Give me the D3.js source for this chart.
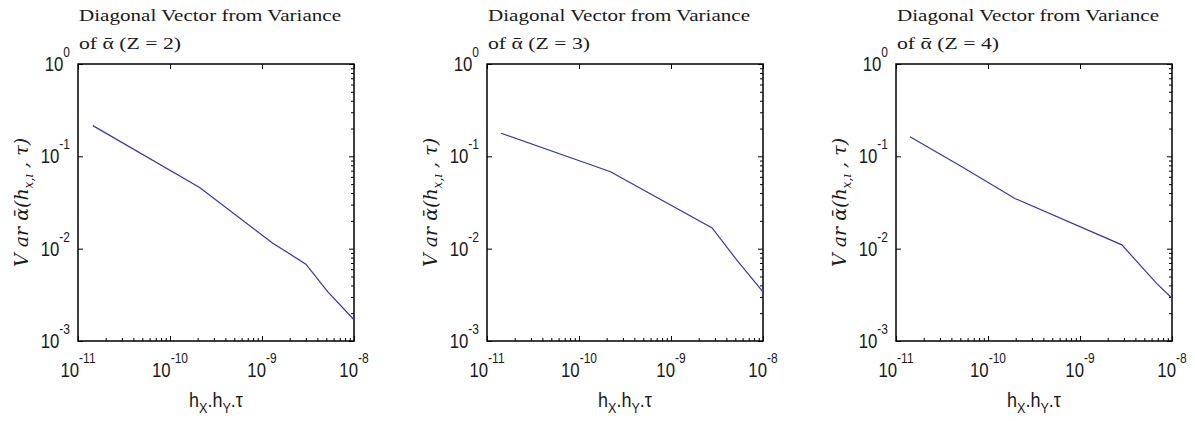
<!DOCTYPE html>
<html>
<head>
<meta charset="utf-8">
<script src="https://cdn.jsdelivr.net/npm/d3@7/dist/d3.min.js"></script>
<style>
  body { margin: 0; background: #fff; }
  svg { display: block; }
</style>
</head>
<body>
<div id="chart"></div>
<script>
var width = 1195;
var height = 421;

// data
var zValues = [2, 3, 4];
var xTickExps = [-11, -10, -9, -8];
var yTickExps = [0, -1, -2, -3];

var hTau_z2 = [1.45e-11, 2.1e-10, 1.3e-9, 3.0e-9, 5.2e-9, 1e-8];
var var_z2 = [0.215, 0.046, 0.0115, 0.0068, 0.0034, 0.0017];

var hTau_z3 = [1.42e-11, 2.2e-10, 2.8e-9, 5.2e-9, 1e-8];
var var_z3 = [0.178, 0.068, 0.0168, 0.0075, 0.0034];

var hTau_z4 = [1.42e-11, 5.2e-11, 1.96e-10, 2.85e-9, 6.8e-9, 1e-8];
var var_z4 = [0.163, 0.077, 0.035, 0.011, 0.0042, 0.0029];

var series = [
  d3.zip(hTau_z2, var_z2),
  d3.zip(hTau_z3, var_z3),
  d3.zip(hTau_z4, var_z4)
];

var panelLeft = [78, 487, 896];
var plotTop = 64;
var plotW = 276;
var plotH = 277;
var lineColor = "#3636a8";
var tickFont = "'Liberation Sans', Arial, sans-serif";
var narrow = 0.8; // squeeze the sans labels a bit, like the original bitmap font

var svg = d3.select("#chart")
  .append("svg")
  .attr("width", width)
  .attr("height", height);

var x = d3.scaleLog().domain([1e-11, 1e-8]).range([0, plotW]);
var y = d3.scaleLog().domain([1e-3, 1]).range([plotH, 0]);

// minor ticks 2..9 in each decade
var minorX = [];
xTickExps.slice(0, -1).forEach(function(e) {
  for (var k = 2; k <= 9; k++) minorX.push(k * Math.pow(10, e));
});
var minorY = [];
yTickExps.slice(1).forEach(function(e) {
  for (var k = 2; k <= 9; k++) minorY.push(k * Math.pow(10, e));
});

var line = d3.line()
  .x(function(d) { return x(d[0]); })
  .y(function(d) { return y(d[1]); });

function powLabel(g, px, py, anchor, e) {
  var t = g.append("text")
    .attr("transform", "translate(" + px + "," + py + ") scale(" + narrow + ",1)")
    .attr("text-anchor", anchor)
    .attr("fill", "#1a1a1a")
    .style("font-family", tickFont)
    .style("font-size", "21px");
  t.append("tspan").text("10");
  t.append("tspan").attr("dy", -14).style("font-size", "15px").text(e);
}

series.forEach(function(data, i) {
  var g = svg.append("g")
    .attr("transform", "translate(" + panelLeft[i] + "," + plotTop + ")");

  // inward ticks
  var majX = xTickExps.map(function(e) { return Math.pow(10, e); });
  var majY = yTickExps.map(function(e) { return Math.pow(10, e); });

  g.append("g").attr("transform", "translate(0," + plotH + ")")
    .call(d3.axisBottom(x).tickValues(majX).tickSize(-5).tickFormat(""));
  g.append("g").attr("transform", "translate(0," + plotH + ")")
    .call(d3.axisBottom(x).tickValues(minorX).tickSize(-3).tickFormat(""));
  g.append("g")
    .call(d3.axisTop(x).tickValues(majX).tickSize(-5).tickFormat(""));
  g.append("g")
    .call(d3.axisLeft(y).tickValues(majY).tickSize(-5).tickFormat(""));
  g.append("g").attr("transform", "translate(" + plotW + ",0)")
    .call(d3.axisRight(y).tickValues(majY).tickSize(-5).tickFormat(""));
  g.append("g").attr("transform", "translate(" + plotW + ",0)")
    .call(d3.axisRight(y).tickValues(minorY).tickSize(-3).tickFormat(""));
  g.selectAll(".domain").remove();
  g.selectAll(".tick line").attr("stroke", "#000").attr("stroke-width", 1);

  // box
  g.append("rect")
    .attr("width", plotW)
    .attr("height", plotH)
    .attr("fill", "none")
    .attr("stroke", "#000")
    .attr("stroke-width", 1.5);

  // curve
  g.append("path")
    .datum(data)
    .attr("d", line)
    .attr("fill", "none")
    .attr("stroke", lineColor)
    .attr("stroke-width", 1.2);

  // tick labels
  xTickExps.forEach(function(e) {
    powLabel(g, x(Math.pow(10, e)), plotH + 36, "middle", e);
  });
  yTickExps.forEach(function(e) {
    powLabel(g, -8, y(Math.pow(10, e)) + 7, "end", e);
  });

  // title
  svg.append("text")
    .attr("x", panelLeft[i] + 1)
    .attr("y", 21)
    .attr("textLength", 262)
    .attr("lengthAdjust", "spacingAndGlyphs")
    .attr("fill", "#1a1a1a")
    .style("font-family", "'Liberation Serif', serif")
    .style("font-size", "17px")
    .text("Diagonal Vector from Variance");
  var t2 = svg.append("text")
    .attr("x", panelLeft[i] + 1)
    .attr("y", 49)
    .attr("textLength", 102)
    .attr("lengthAdjust", "spacingAndGlyphs")
    .attr("fill", "#1a1a1a")
    .style("font-family", "'Liberation Serif', serif")
    .style("font-size", "17px");
  t2.append("tspan").text("of ");
  t2.append("tspan").text("\u1FB1");
  t2.append("tspan").text(" (Z = " + zValues[i] + ")");

  // x axis label
  var xl = svg.append("text")
    .attr("transform", "translate(" + (panelLeft[i] + plotW / 2) + ",407) scale(0.9,1)")
    .attr("text-anchor", "middle")
    .attr("fill", "#1a1a1a")
    .style("font-family", tickFont)
    .style("font-size", "20px");
  xl.append("tspan").text("h");
  xl.append("tspan").attr("dy", 6).style("font-size", "14px").text("X");
  xl.append("tspan").attr("dy", -6).text(".h");
  xl.append("tspan").attr("dy", 6).style("font-size", "14px").text("Y");
  xl.append("tspan").attr("dy", -6).text(".\u03C4");

  // y axis label
  var yl = svg.append("text")
    .attr("transform", "translate(" + (panelLeft[i] - 50) + "," + (plotTop + plotH / 2) + ") rotate(-90)")
    .attr("text-anchor", "middle")
    .attr("fill", "#1a1a1a")
    .style("font-family", "'DejaVu Serif', serif")
    .style("font-style", "italic")
    .style("font-size", "19px");
  yl.append("tspan").text("V ar \u1FB1(h");
  yl.append("tspan").attr("dy", 5).style("font-size", "12px").text("x,\u0131");
  yl.append("tspan").attr("dy", -5).text(" , \u03C4)");
});
</script>
</body>
</html>
